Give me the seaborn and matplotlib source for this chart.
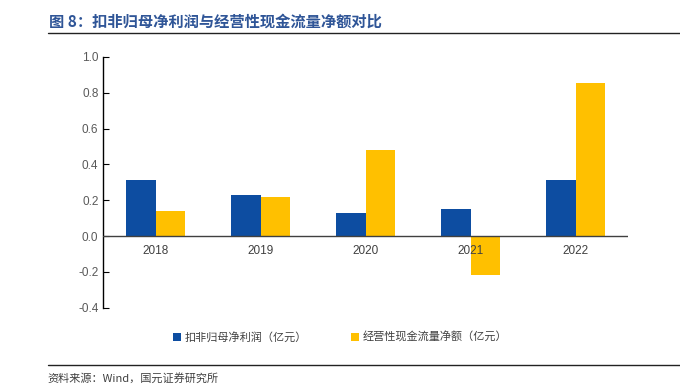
import numpy as np
import pandas as pd
import seaborn as sns
import matplotlib.pyplot as plt
from matplotlib.lines import Line2D
from matplotlib.patches import Patch

years = ['2018', '2019', '2020', '2021', '2022']
profit = [0.31, 0.23, 0.13, 0.15, 0.31]
cashflow = [0.14, 0.22, 0.48, -0.22, 0.855]
series_names = ['扣非归母净利润（亿元）', '经营性现金流量净额（亿元）']
colors = ['#0D4DA1', '#FFC000']

sns.set_style('white')
plt.rcParams['font.family'] = ['Liberation Sans', 'Noto Sans CJK SC', 'DejaVu Sans']

df = pd.DataFrame({'year': years * 2,
                   'value': profit + cashflow,
                   'series': [series_names[0]] * 5 + [series_names[1]] * 5})

fig = plt.figure(figsize=(6.8, 3.87), dpi=100)
ax = fig.add_axes([0.152, 0.205, 0.772, 0.648])
sns.barplot(data=df, x='year', y='value', hue='series', palette=colors,
            width=0.56, saturation=1, linewidth=0, edgecolor='none',
            ax=ax, legend=False)

ticks = np.arange(-0.4, 1.01, 0.2)
ax.set_ylim(-0.4, 1.0)
ax.set_yticks(ticks)
ax.set_yticklabels([f'{v:.1f}' for v in ticks])
ax.set_xlabel('')
ax.set_ylabel('')
for s in ['top', 'right', 'bottom']:
    ax.spines[s].set_visible(False)
ax.spines['left'].set_color('#000000')
ax.spines['left'].set_linewidth(1.0)
ax.axhline(0, color='#404040', lw=1.0, zorder=3)
ax.tick_params(axis='y', direction='in', length=4, color='#000000',
               labelsize=8.5, labelcolor='#595959', left=True)

# category labels sit just under the zero line
ax.set_xticks(range(len(years)))
ax.set_xticklabels([])
ax.tick_params(axis='x', length=0)
for i, y in enumerate(years):
    ax.text(i, -0.05, y, ha='center', va='top', fontsize=8.5, color='#404040')
ax.set_xlim(-0.5, 4.5)

handles = [Patch(facecolor=c, edgecolor='none') for c in colors]
fig.legend(handles, series_names, loc='center', bbox_to_anchor=(0.5, 0.128),
           ncol=2, frameon=False, fontsize=8, handlelength=0.7, handleheight=0.7,
           columnspacing=4, handletextpad=0.3, labelcolor='#404040')

fig.text(0.072, 0.945, '图 8：扣非归母净利润与经营性现金流量净额对比', fontsize=11,
         fontweight='bold', color='#2F5597', va='center',
         family=['Noto Sans CJK SC', 'DejaVu Sans'])
fig.add_artist(Line2D([0.07, 1.0], [0.915, 0.915], color='#222222', lw=1.0))
fig.add_artist(Line2D([0.07, 1.0], [0.057, 0.057], color='#222222', lw=1.0))
fig.text(0.07, 0.022, '资料来源：Wind，国元证券研究所', fontsize=8, color='#404040',
         va='center', family=['Noto Sans CJK SC', 'DejaVu Sans'])

fig.savefig('out.png', dpi=100)
